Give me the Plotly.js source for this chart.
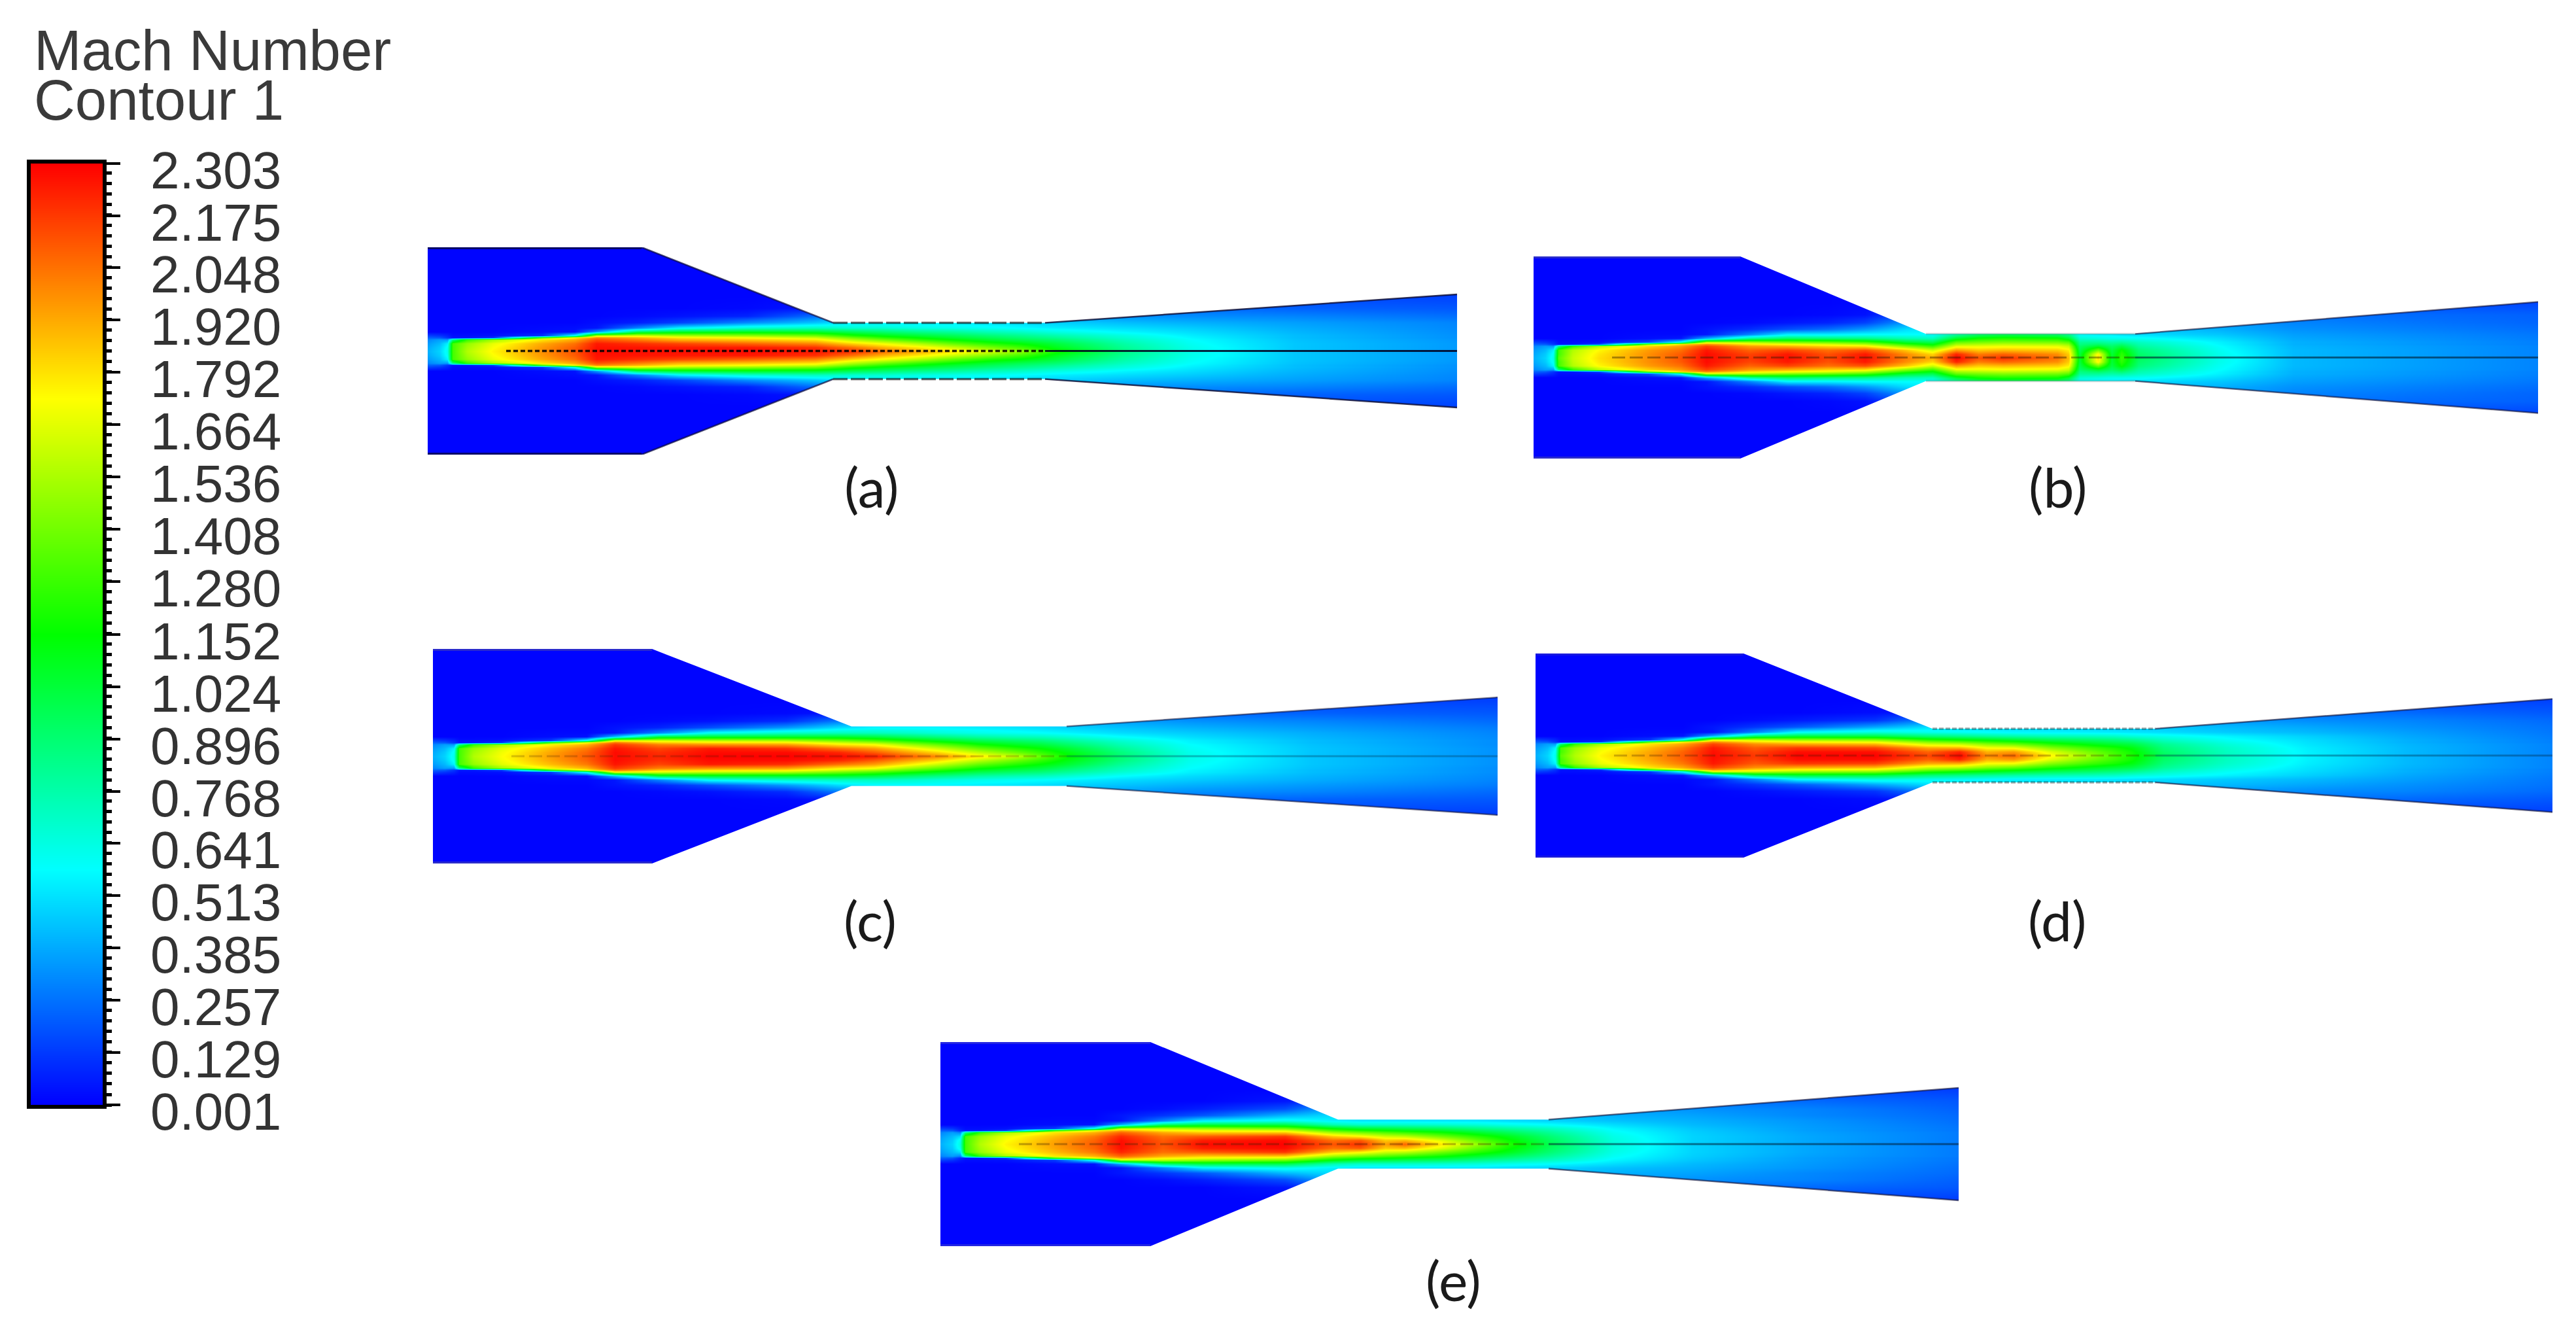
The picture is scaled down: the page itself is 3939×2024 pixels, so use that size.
<!DOCTYPE html>
<html>
<head>
<meta charset="utf-8">
<title>Mach Number Contour 1</title>
<script src="https://cdn.plot.ly/plotly-3.0.1.min.js"></script>
<style>
  html, body { margin: 0; padding: 0; background: #ffffff; }
</style>
</head>
<body>
<div id="chart" style="width:3939px;height:2024px;"></div>
<script>
const pageW = 3939;
const pageH = 2024;

// Colour bar levels
const barLevels = [0.001, 0.129, 0.257, 0.385, 0.513, 0.641, 0.768, 0.896, 1.024, 1.152, 1.280, 1.408, 1.536, 1.664, 1.792, 1.920, 2.048, 2.175, 2.303];
const barLabels = ['0.001', '0.129', '0.257', '0.385', '0.513', '0.641', '0.768', '0.896', '1.024', '1.152', '1.280', '1.408', '1.536', '1.664', '1.792', '1.920', '2.048', '2.175', '2.303'];
const panelNames = ['(a)', '(b)', '(c)', '(d)', '(e)'];

// Distance from the nozzle axis of each row of Mach values (rows are the upper half, mirrored below)
const rowOffsets = [0, 6, 12, 18, 21, 24, 30, 36, 44, 54, 66, 84, 160];

// Panel (a): distance along the nozzle and Mach number per row
const xA = [0, 18, 30, 38, 60, 100, 175, 225, 258, 320, 384, 489, 593, 650, 698, 750, 802, 855, 907, 960, 1064, 1168, 1326, 1574];
const machA = [
  [.40, .48, .62, 1.30, 1.55, 1.75, 1.98, 2.12, 2.28, 2.27, 2.27, 2.28, 2.25, 2.20, 2.05, 1.92, 1.80, 1.65, 1.48, 1.20, .85, .62, .45, .35],
  [.38, .46, .60, 1.30, 1.52, 1.72, 1.96, 2.10, 2.27, 2.26, 2.25, 2.25, 2.20, 2.05, 1.90, 1.78, 1.62, 1.45, 1.30, 1.10, .82, .62, .45, .35],
  [.35, .42, .55, 1.30, 1.48, 1.68, 1.92, 2.05, 2.25, 2.20, 2.15, 2.08, 2.00, 1.82, 1.70, 1.55, 1.38, 1.24, 1.14, 1.02, .78, .60, .45, .35],
  [.30, .36, .35, .85, 1.25, 1.50, 1.78, 1.92, 2.12, 2.02, 1.90, 1.85, 1.78, 1.55, 1.40, 1.26, 1.15, 1.05, .97, .90, .72, .58, .44, .34],
  [.22, .20, .12, .05, .05, .12, 1.35, 1.75, 2.00, 1.90, 1.78, 1.72, 1.62, 1.40, 1.25, 1.15, 1.05, .97, .90, .83, .68, .56, .43, .33],
  [.15, .12, .08, .03, .03, .04, .12, .65, 1.60, 1.65, 1.55, 1.50, 1.42, 1.22, 1.12, 1.04, .97, .90, .84, .77, .65, .54, .43, .33],
  [.01, .01, .01, .01, .01, .01, .03, .04, .35, .95, 1.05, 1.08, 1.05, .96, .90, .84, .80, .74, .70, .64, .56, .50, .41, .32],
  [.01, .01, .01, .01, .01, .01, .02, .03, .05, .30, .55, .68, .72, .68, .68, .64, .62, .60, .57, .54, .50, .46, .39, .31],
  [.01, .01, .01, .01, .01, .01, .01, .01, .03, .07, .15, .32, .45, .55, .55, .55, .55, .52, .50, .47, .43, .40, .36, .30],
  [.01, .01, .01, .01, .01, .01, .01, .01, .01, .02, .04, .08, .25, .40, .40, .40, .40, .40, .40, .35, .33, .32, .30, .25],
  [.01, .01, .01, .01, .01, .01, .01, .01, .01, .01, .01, .02, .05, .20, .20, .20, .20, .20, .20, .20, .24, .24, .22, .20],
  [.01, .01, .01, .01, .01, .01, .01, .01, .01, .01, .01, .01, .02, .10, .10, .10, .10, .10, .10, .10, .14, .16, .16, .15],
  [.01, .01, .01, .01, .01, .01, .01, .01, .01, .01, .01, .01, .01, .01, .01, .01, .01, .01, .01, .01, .01, .01, .01, .01]
];

// Panel (b)
const xB = [0, 18, 30, 38, 60, 100, 175, 225, 264, 330, 388, 450, 507, 570, 610, 646, 680, 718, 801, 818, 835, 863, 884, 899, 925, 1049, 1162, 1536];
const machB = [
  [.40, .48, .62, 1.35, 1.60, 1.80, 1.98, 2.12, 2.28, 2.18, 2.27, 2.15, 2.27, 2.02, 1.92, 2.30, 2.12, 2.20, 2.05, 1.88, 1.05, 1.80, 1.05, 1.28, .95, .62, .42, .30],
  [.38, .46, .60, 1.30, 1.58, 1.78, 1.98, 2.10, 2.28, 2.15, 2.25, 2.12, 2.25, 1.98, 1.82, 2.22, 2.02, 2.08, 1.98, 1.84, 1.02, 1.75, 1.03, 1.25, .92, .62, .42, .30],
  [.35, .42, .55, 1.30, 1.55, 1.74, 1.95, 2.05, 2.25, 2.08, 2.15, 2.05, 2.12, 1.85, 1.62, 1.95, 1.85, 1.88, 1.84, 1.76, .98, 1.40, 1.00, 1.18, .88, .60, .42, .30],
  [.30, .36, .35, .85, 1.25, 1.55, 1.82, 1.95, 2.15, 1.95, 1.90, 1.82, 1.78, 1.45, 1.28, 1.68, 1.68, 1.70, 1.68, 1.60, .92, 1.05, .92, 1.00, .80, .58, .41, .30],
  [.22, .20, .12, .05, .05, .15, 1.40, 1.80, 1.98, 1.78, 1.72, 1.65, 1.55, 1.25, 1.12, 1.52, 1.55, 1.58, 1.55, 1.48, .86, .92, .85, .90, .76, .56, .40, .29],
  [.15, .12, .08, .03, .03, .04, .18, .65, 1.60, 1.55, 1.45, 1.40, 1.32, 1.05, .98, 1.38, 1.42, 1.45, 1.42, 1.35, .82, .82, .78, .80, .72, .55, .40, .29],
  [.01, .01, .01, .01, .01, .01, .03, .05, .40, .80, .92, .88, .85, .75, .72, 1.05, 1.18, 1.22, 1.18, 1.05, .68, .65, .62, .62, .60, .50, .38, .28],
  [.01, .01, .01, .01, .01, .01, .02, .02, .05, .30, .55, .55, .58, .58, .58, .78, .90, .95, .90, .82, .58, .55, .55, .52, .50, .45, .36, .27],
  [.01, .01, .01, .01, .01, .01, .01, .01, .04, .10, .18, .25, .35, .50, .55, .60, .60, .60, .60, .60, .55, .52, .50, .48, .45, .40, .33, .25],
  [.01, .01, .01, .01, .01, .01, .01, .01, .01, .02, .05, .08, .15, .35, .45, .45, .45, .45, .45, .45, .45, .45, .45, .42, .40, .36, .30, .23],
  [.01, .01, .01, .01, .01, .01, .01, .01, .01, .01, .01, .02, .04, .18, .30, .30, .30, .30, .30, .30, .30, .30, .30, .30, .30, .30, .26, .22],
  [.01, .01, .01, .01, .01, .01, .01, .01, .01, .01, .01, .01, .02, .06, .12, .15, .15, .15, .15, .15, .15, .15, .15, .15, .16, .18, .18, .16],
  [.01, .01, .01, .01, .01, .01, .01, .01, .01, .01, .01, .01, .01, .01, .01, .01, .01, .01, .01, .01, .01, .01, .01, .01, .01, .01, .01, .01]
];

// Panel (c)
const xC = [0, 18, 32, 40, 62, 105, 180, 235, 278, 345, 423, 540, 621, 675, 725, 771, 835, 890, 930, 964, 1050, 1157, 1340, 1628];
const machC = [
  [.40, .48, .62, 1.30, 1.55, 1.72, 1.95, 2.10, 2.28, 2.22, 2.30, 2.30, 2.28, 2.25, 2.10, 2.00, 1.78, 1.60, 1.38, 1.20, .90, .62, .45, .33],
  [.38, .46, .60, 1.30, 1.52, 1.70, 1.93, 2.08, 2.28, 2.20, 2.28, 2.28, 2.22, 2.10, 1.95, 1.82, 1.58, 1.40, 1.26, 1.14, .88, .62, .45, .33],
  [.35, .42, .55, 1.30, 1.48, 1.66, 1.88, 2.03, 2.26, 2.15, 2.25, 2.20, 2.05, 1.95, 1.78, 1.62, 1.38, 1.24, 1.15, 1.06, .82, .60, .45, .33],
  [.30, .36, .35, .85, 1.25, 1.50, 1.75, 1.90, 2.18, 2.02, 1.98, 1.95, 1.78, 1.72, 1.52, 1.38, 1.18, 1.08, 1.02, .94, .75, .58, .44, .32],
  [.22, .20, .12, .05, .05, .12, 1.30, 1.72, 2.05, 1.85, 1.80, 1.78, 1.62, 1.52, 1.36, 1.24, 1.08, 1.00, .95, .88, .72, .56, .43, .32],
  [.15, .12, .08, .03, .03, .04, .14, .65, 1.70, 1.65, 1.58, 1.55, 1.42, 1.32, 1.20, 1.10, .98, .92, .88, .82, .68, .55, .43, .32],
  [.01, .01, .01, .01, .01, .01, .03, .04, .45, 1.00, 1.05, 1.05, 1.05, 1.00, .92, .86, .78, .74, .72, .68, .58, .50, .41, .31],
  [.01, .01, .01, .01, .01, .01, .02, .02, .05, .30, .60, .70, .72, .72, .70, .66, .62, .60, .58, .56, .50, .46, .39, .30],
  [.01, .01, .01, .01, .01, .01, .01, .01, .04, .08, .18, .35, .50, .56, .56, .56, .54, .52, .50, .48, .44, .40, .35, .28],
  [.01, .01, .01, .01, .01, .01, .01, .01, .01, .02, .04, .10, .28, .42, .42, .42, .42, .42, .42, .42, .36, .33, .30, .24],
  [.01, .01, .01, .01, .01, .01, .01, .01, .01, .01, .01, .02, .05, .20, .20, .20, .20, .20, .20, .20, .24, .24, .22, .20],
  [.01, .01, .01, .01, .01, .01, .01, .01, .01, .01, .01, .01, .02, .10, .10, .10, .10, .10, .10, .10, .14, .16, .16, .15],
  [.01, .01, .01, .01, .01, .01, .01, .01, .01, .01, .01, .01, .01, .01, .01, .01, .01, .01, .01, .01, .01, .01, .01, .01]
];

// Panel (d)
const xD = [0, 18, 30, 38, 60, 100, 175, 225, 271, 335, 400, 519, 600, 648, 690, 731, 788, 850, 885, 912, 960, 1056, 1180, 1330, 1555];
const machD = [
  [.40, .48, .62, 1.35, 1.55, 1.75, 1.95, 2.10, 2.28, 2.18, 2.30, 2.30, 2.15, 2.30, 2.00, 2.08, 1.75, 1.48, 1.32, 1.20, .95, .72, .55, .42, .30],
  [.38, .46, .60, 1.30, 1.52, 1.72, 1.93, 2.08, 2.27, 2.15, 2.27, 2.27, 2.08, 2.22, 1.90, 1.95, 1.65, 1.40, 1.28, 1.18, .92, .72, .55, .42, .30],
  [.35, .42, .55, 1.30, 1.48, 1.68, 1.88, 2.03, 2.25, 2.10, 2.18, 2.15, 1.92, 1.90, 1.72, 1.70, 1.45, 1.28, 1.20, 1.12, .88, .70, .54, .42, .30],
  [.30, .36, .35, .85, 1.25, 1.52, 1.78, 1.92, 2.15, 1.98, 1.92, 1.88, 1.62, 1.58, 1.45, 1.38, 1.22, 1.10, 1.04, 1.00, .82, .66, .52, .41, .30],
  [.22, .20, .12, .05, .05, .12, 1.35, 1.75, 2.00, 1.82, 1.75, 1.70, 1.45, 1.38, 1.28, 1.22, 1.10, 1.01, .96, .92, .77, .63, .51, .40, .29],
  [.15, .12, .08, .03, .03, .04, .14, .65, 1.68, 1.62, 1.52, 1.48, 1.25, 1.18, 1.12, 1.06, .98, .92, .88, .84, .72, .60, .50, .40, .29],
  [.01, .01, .01, .01, .01, .01, .03, .05, .42, .92, 1.02, 1.00, .88, .84, .80, .77, .74, .72, .70, .66, .62, .55, .47, .38, .28],
  [.01, .01, .01, .01, .01, .01, .02, .02, .05, .30, .58, .66, .62, .60, .58, .56, .55, .54, .53, .52, .50, .46, .42, .36, .27],
  [.01, .01, .01, .01, .01, .01, .01, .01, .05, .12, .20, .38, .50, .50, .50, .50, .50, .48, .47, .46, .45, .42, .38, .33, .26],
  [.01, .01, .01, .01, .01, .01, .01, .01, .01, .03, .06, .12, .30, .40, .40, .40, .40, .40, .40, .38, .36, .34, .32, .30, .24],
  [.01, .01, .01, .01, .01, .01, .01, .01, .01, .01, .01, .03, .08, .20, .20, .20, .20, .20, .20, .20, .22, .25, .26, .24, .20],
  [.01, .01, .01, .01, .01, .01, .01, .01, .01, .01, .01, .01, .02, .10, .10, .10, .10, .10, .10, .10, .10, .13, .16, .16, .15],
  [.01, .01, .01, .01, .01, .01, .01, .01, .01, .01, .01, .01, .01, .01, .01, .01, .01, .01, .01, .01, .01, .01, .01, .01, .01]
];

// Panel (e)
const xE = [0, 18, 30, 38, 60, 100, 175, 235, 276, 340, 401, 527, 600, 642, 680, 710, 767, 820, 867, 930, 1029, 1150, 1320, 1557];
const machE = [
  [.40, .48, .65, 1.30, 1.55, 1.75, 1.95, 2.10, 2.28, 2.12, 2.28, 2.30, 2.12, 2.20, 1.95, 2.08, 1.78, 1.50, 1.24, .98, .65, .48, .38, .28],
  [.38, .46, .62, 1.30, 1.52, 1.72, 1.93, 2.08, 2.27, 2.10, 2.24, 2.28, 2.05, 2.10, 1.85, 1.88, 1.65, 1.38, 1.18, .95, .65, .48, .38, .28],
  [.35, .42, .50, 1.30, 1.48, 1.68, 1.88, 2.03, 2.22, 2.05, 2.10, 2.18, 1.85, 1.75, 1.62, 1.58, 1.40, 1.24, 1.10, .90, .63, .48, .38, .28],
  [.30, .36, .30, .85, 1.25, 1.52, 1.78, 1.90, 2.08, 1.92, 1.85, 1.85, 1.52, 1.42, 1.34, 1.28, 1.18, 1.06, .96, .82, .60, .47, .37, .28],
  [.22, .20, .10, .05, .05, .12, 1.30, 1.72, 1.92, 1.76, 1.70, 1.65, 1.32, 1.22, 1.16, 1.12, 1.06, .96, .88, .77, .58, .46, .36, .27],
  [.15, .12, .06, .03, .03, .04, .14, .65, 1.58, 1.58, 1.50, 1.42, 1.15, 1.05, 1.02, .98, .94, .86, .80, .72, .56, .45, .36, .27],
  [.01, .01, .01, .01, .01, .01, .03, .04, .40, .90, 1.00, .98, .75, .70, .70, .70, .68, .66, .62, .58, .50, .42, .35, .26],
  [.01, .01, .01, .01, .01, .01, .02, .02, .05, .30, .55, .62, .55, .52, .52, .52, .52, .52, .50, .48, .44, .40, .34, .25],
  [.01, .01, .01, .01, .01, .01, .01, .01, .05, .12, .20, .42, .50, .50, .50, .50, .50, .48, .46, .44, .40, .37, .31, .24],
  [.01, .01, .01, .01, .01, .01, .01, .01, .01, .03, .07, .18, .40, .42, .42, .42, .42, .42, .40, .38, .36, .33, .30, .22],
  [.01, .01, .01, .01, .01, .01, .01, .01, .01, .01, .01, .05, .15, .25, .25, .25, .25, .25, .25, .25, .26, .26, .24, .20],
  [.01, .01, .01, .01, .01, .01, .01, .01, .01, .01, .01, .01, .04, .10, .10, .10, .10, .10, .10, .10, .13, .16, .16, .14],
  [.01, .01, .01, .01, .01, .01, .01, .01, .01, .01, .01, .01, .01, .01, .01, .01, .01, .01, .01, .01, .01, .01, .01, .01]
];

// Nozzle walls of each panel: end of chamber, throat start and end, half heights
const panelX = [xA, xB, xC, xD, xE];
const panelMach = [machA, machB, machC, machD, machE];
const chamberEnd = [327, 316, 335, 318, 321];
const throatStart = [620, 600, 640, 607, 608];
const throatEnd = [944, 920, 969, 948, 930];
const chamberHalf = [158.5, 154.5, 164, 156, 156];
const throatHalf = [43, 36, 45.5, 41, 37.5];
const exitHalf = [86.5, 85, 90, 86.5, 86];

// Where each panel sits on the page, in pixels
const panelLeft = [654, 2345, 662, 2348, 1438];
const panelRight = [2228, 3881, 2290, 3903, 2995];
const panelCentre = [536.5, 546.5, 1156, 1155, 1749];
const labelX = [1333, 3146, 1330, 3146, 2222];
const labelY = [743, 743, 1406, 1406, 1956];

// Styles that differ per panel
const chamberWall = ['rgba(10,10,80,0.85)', 'rgba(70,70,170,0.6)', 'rgba(70,70,170,0.6)', 'rgba(40,40,200,0.6)', 'rgba(70,70,200,0.5)'];
const convergeWall = ['rgba(10,10,60,0.7)', 'rgba(0,0,0,0)', 'rgba(0,0,0,0)', 'rgba(0,0,0,0)', 'rgba(0,0,0,0)'];
const throatWall = ['rgba(0,0,0,0.6)', 'rgba(40,60,60,0.2)', 'rgba(0,0,0,0)', 'rgba(20,40,40,0.4)', 'rgba(0,0,0,0)'];
const divergeWall = ['rgba(10,10,50,0.8)', 'rgba(10,10,50,0.6)', 'rgba(10,10,50,0.55)', 'rgba(10,10,50,0.6)', 'rgba(10,10,50,0.6)'];
const throatDash = ['22px,5px', 'solid', 'solid', '7px,3px', 'solid'];
const jetAxisColor = ['rgba(0,0,0,0.85)', 'rgba(40,30,0,0.4)', 'rgba(60,40,0,0.22)', 'rgba(60,40,0,0.28)', 'rgba(60,40,0,0.35)'];
const jetAxisDash = ['7px,4px', '20px,7px', '20px,7px', '20px,7px', '20px,7px'];
const tailAxisColor = ['rgba(0,0,30,0.85)', 'rgba(0,30,50,0.6)', 'rgba(0,60,90,0.35)', 'rgba(0,50,80,0.4)', 'rgba(0,30,50,0.55)'];

const machScale = [[0, '#0000ff'], [0.25, '#00ffff'], [0.5, '#00ff00'], [0.75, '#ffff00'], [1, '#ff0000']];

const traces = [];
const layout = {
  width: pageW,
  height: pageH,
  margin: { l: 0, r: 0, t: 0, b: 0 },
  paper_bgcolor: '#ffffff',
  plot_bgcolor: '#ffffff',
  showlegend: false,
  coloraxis: { colorscale: machScale, cmin: 0.001, cmax: 2.303, showscale: false },
  annotations: []
};

const lineTrace = (x, y, line, xRef, yRef) => ({
  type: 'scatter',
  mode: 'lines',
  x,
  y,
  line,
  xaxis: xRef,
  yaxis: yRef,
  hoverinfo: 'skip'
});

panelNames.forEach((name, i) => {
  const suffix = i === 0 ? '' : String(i + 1);
  const width = panelRight[i] - panelLeft[i];
  const H = chamberHalf[i];
  const xRef = 'x' + suffix;
  const yRef = 'y' + suffix;

  layout['xaxis' + suffix] = {
    domain: [panelLeft[i] / pageW, panelRight[i] / pageW],
    range: [0, width],
    anchor: yRef,
    visible: false
  };
  layout['yaxis' + suffix] = {
    domain: [1 - (panelCentre[i] + H) / pageH, 1 - (panelCentre[i] - H) / pageH],
    range: [-H, H],
    anchor: xRef,
    visible: false
  };

  // Mach field, upper half rows mirrored about the axis
  const rows = panelMach[i];
  const below = rows.slice(1).reverse();
  traces.push({
    type: 'heatmap',
    x: panelX[i],
    y: rowOffsets.slice(1).reverse().map(r => -r).concat(rowOffsets),
    z: below.concat(rows),
    zsmooth: 'best',
    coloraxis: 'coloraxis',
    xaxis: xRef,
    yaxis: yRef,
    hoverinfo: 'skip'
  });

  [1, -1].forEach(side => {
    // White outside of the walls
    const mask = lineTrace(
      [0, chamberEnd[i], throatStart[i], throatEnd[i], width, width, 0],
      [H, H, throatHalf[i], throatHalf[i], exitHalf[i], H, H].map(v => side * v),
      { width: 0 },
      xRef,
      yRef
    );
    mask.fill = 'toself';
    mask.fillcolor = '#ffffff';
    traces.push(mask);

    traces.push(lineTrace([0, chamberEnd[i]], [side * (H - 1.5), side * (H - 1.5)], { color: chamberWall[i], width: 3 }, xRef, yRef));
    traces.push(lineTrace([chamberEnd[i], throatStart[i]], [side * H, side * throatHalf[i]], { color: convergeWall[i], width: 2.5 }, xRef, yRef));
    traces.push(lineTrace([throatStart[i], throatEnd[i]], [side * throatHalf[i], side * throatHalf[i]], { color: throatWall[i], width: 3.5, dash: throatDash[i] }, xRef, yRef));
    traces.push(lineTrace([throatEnd[i], width], [side * throatHalf[i], side * exitHalf[i]], { color: divergeWall[i], width: 2.5 }, xRef, yRef));
  });

  // Axis line: broken over the jet, closed further down
  traces.push(lineTrace([120, throatEnd[i]], [0, 0], { color: jetAxisColor[i], width: i === 0 ? 3.5 : 3, dash: jetAxisDash[i] }, xRef, yRef));
  traces.push(lineTrace([throatEnd[i], width], [0, 0], { color: tailAxisColor[i], width: 3 }, xRef, yRef));

  layout.annotations.push({
    text: name,
    xref: 'paper',
    yref: 'paper',
    x: labelX[i] / pageW,
    y: 1 - labelY[i] / pageH,
    xanchor: 'center',
    yanchor: 'middle',
    showarrow: false,
    font: { family: 'Lato', size: 84, color: '#1a1a1a' }
  });
});

// Colour bar, drawn as its own heatmap so it can carry major and minor ticks
traces.push({
  type: 'heatmap',
  x: [0, 1],
  y: barLevels,
  z: barLevels.map(v => [v, v]),
  zsmooth: 'best',
  coloraxis: 'coloraxis',
  xaxis: 'x6',
  yaxis: 'y6',
  hoverinfo: 'skip'
});
layout.xaxis6 = {
  domain: [47 / pageW, 157 / pageW],
  range: [0, 1],
  anchor: 'y6',
  showticklabels: false,
  ticks: '',
  showgrid: false,
  zeroline: false,
  showline: true,
  mirror: true,
  linecolor: '#000000',
  linewidth: 6
};
layout.yaxis6 = {
  domain: [1 - 1689 / pageH, 1 - 250 / pageH],
  range: [0.001, 2.303],
  anchor: 'x6',
  side: 'right',
  showgrid: false,
  zeroline: false,
  showline: true,
  mirror: true,
  linecolor: '#000000',
  linewidth: 6,
  tickmode: 'array',
  tickvals: barLevels,
  ticktext: barLabels,
  ticks: 'outside',
  ticklen: 21,
  tickwidth: 4,
  tickcolor: '#000000',
  ticklabelstandoff: 30,
  ticklabelshift: 10,
  tickfont: { family: 'Liberation Sans', size: 80, color: '#333333' },
  minor: { dtick: 0.0256, tick0: 0.001, ticks: 'outside', ticklen: 8, tickwidth: 5, tickcolor: '#000000' }
};

['Mach Number', 'Contour 1'].forEach((line, i) => {
  layout.annotations.push({
    text: line,
    xref: 'paper',
    yref: 'paper',
    x: 50 / pageW,
    y: 1 - [76, 153][i] / pageH,
    xanchor: 'left',
    yanchor: 'middle',
    showarrow: false,
    font: { family: 'Liberation Sans', size: 87, color: '#3a3a3a' }
  });
});

Plotly.newPlot('chart', traces, layout, { displayModeBar: false, staticPlot: true });
</script>
</body>
</html>
